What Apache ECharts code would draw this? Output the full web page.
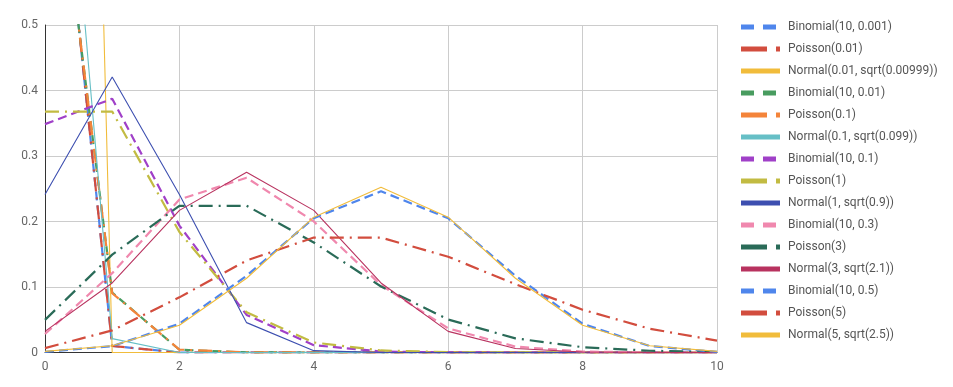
<!DOCTYPE html>
<html>
<head>
<meta charset="utf-8">
<script src="https://cdn.jsdelivr.net/npm/echarts@6/dist/echarts.min.js"></script>
<style>html,body{margin:0;padding:0;background:#fff}#c{width:953px;height:387px}</style>
</head>
<body>
<div id="c"></div>
<script>
const xValues = [0, 1, 2, 3, 4, 5, 6, 7, 8, 9, 10];
const xTicks = [0, 2, 4, 6, 8, 10];
const yTicks = [0, 0.1, 0.2, 0.3, 0.4, 0.5];

const seriesNames = [
  'Binomial(10, 0.001)', 'Poisson(0.01)', 'Normal(0.01, sqrt(0.00999))',
  'Binomial(10, 0.01)', 'Poisson(0.1)', 'Normal(0.1, sqrt(0.099))',
  'Binomial(10, 0.1)', 'Poisson(1)', 'Normal(1, sqrt(0.9))',
  'Binomial(10, 0.3)', 'Poisson(3)', 'Normal(3, sqrt(2.1))',
  'Binomial(10, 0.5)', 'Poisson(5)', 'Normal(5, sqrt(2.5))'
];

const binom0001 = [0.9900, 0.0099, 0.0000, 0, 0, 0, 0, 0, 0, 0, 0];
const pois001   = [0.9900, 0.0099, 0.0000, 0, 0, 0, 0, 0, 0, 0, 0];
const norm001   = [3.9700, 0.0000, 0, 0, 0, 0, 0, 0, 0, 0, 0];
const binom001  = [0.9044, 0.0914, 0.0042, 0.0001, 0, 0, 0, 0, 0, 0, 0];
const pois01    = [0.9048, 0.0905, 0.0045, 0.0002, 0, 0, 0, 0, 0, 0, 0];
const norm01    = [1.2060, 0.0212, 0.0000, 0, 0, 0, 0, 0, 0, 0, 0];
const binom01   = [0.3487, 0.3874, 0.1937, 0.0574, 0.0112, 0.0015, 0.0001, 0, 0, 0, 0];
const pois1     = [0.3679, 0.3679, 0.1839, 0.0613, 0.0153, 0.0031, 0.0005, 0.0001, 0, 0, 0];
const norm1     = [0.2413, 0.4205, 0.2413, 0.0456, 0.0028, 0.0001, 0, 0, 0, 0, 0];
const binom03   = [0.0282, 0.1211, 0.2335, 0.2668, 0.2001, 0.1029, 0.0368, 0.0090, 0.0014, 0.0001, 0.0000];
const pois3     = [0.0498, 0.1494, 0.2240, 0.2240, 0.1680, 0.1008, 0.0504, 0.0216, 0.0081, 0.0027, 0.0008];
const norm3     = [0.0323, 0.1062, 0.2170, 0.2753, 0.2170, 0.1062, 0.0323, 0.0061, 0.0007, 0.0001, 0.0000];
const binom05   = [0.0010, 0.0098, 0.0439, 0.1172, 0.2051, 0.2461, 0.2051, 0.1172, 0.0439, 0.0098, 0.0010];
const pois5     = [0.0067, 0.0337, 0.0842, 0.1404, 0.1755, 0.1755, 0.1462, 0.1044, 0.0653, 0.0363, 0.0181];
const norm5     = [0.0017, 0.0103, 0.0417, 0.1134, 0.2066, 0.2523, 0.2066, 0.1134, 0.0417, 0.0103, 0.0017];

const seriesValues = [binom0001, pois001, norm001, binom001, pois01, norm01,
  binom01, pois1, norm1, binom03, pois3, norm3, binom05, pois5, norm5];

const colors = ['#4f86ec', '#d24d3e', '#f1bc3b', '#489c5f', '#f4843a', '#66bfc6',
  '#a040c8', '#c2bb42', '#3d4fb0', '#f088ae', '#2a6b58', '#b8325f',
  '#4f86ec', '#d24d3e', '#f1bc3b'];

const kinds = ['binom', 'pois', 'norm'];
const lineFor = {
  binom: { width: 2.2, type: [9, 5] },
  pois: { width: 2.2, type: [14, 6, 2, 6] },
  norm: { width: 1.1, type: 'solid' }
};
const iconFor = {
  binom: 'path://M0,0H13V5H0Z M22,0H35V5H22Z M39,0H39.01V5H39Z',
  pois: 'path://M0,0H26V5H0Z M35,0H39V5H35Z',
  norm: 'path://M0,0H39V5H0Z'
};

const series = seriesValues.map((vals, i) => {
  const k = kinds[i % 3];
  return {
    name: seriesNames[i],
    type: 'line',
    data: xValues.map((x, j) => [x, vals[j]]),
    showSymbol: false,
    symbol: 'none',
    color: colors[i],
    lineStyle: { color: colors[i], width: lineFor[k].width, type: lineFor[k].type },
    emphasis: { disabled: true },
    animation: false,
    clip: true
  };
});

const chart = echarts.init(document.getElementById('c'));
chart.setOption({
  backgroundColor: '#fff',
  animation: false,
  textStyle: { fontFamily: 'Roboto, Arial, sans-serif' },
  grid: { left: 45, right: 236, top: 25, bottom: 34.5 },
  xAxis: {
    type: 'value', min: 0, max: 10, interval: 2,
    axisLine: { show: true, lineStyle: { color: '#333', width: 1 } },
    axisTick: { show: false },
    axisLabel: { color: '#666', fontSize: 12, margin: 8,
      formatter: v => xTicks.includes(v) ? String(v) : '' },
    splitLine: { show: true, lineStyle: { color: '#cccccc', width: 1 } }
  },
  yAxis: {
    type: 'value', min: 0, max: 0.5, interval: 0.1,
    axisLine: { show: true, lineStyle: { color: '#333', width: 1 } },
    axisTick: { show: false },
    axisLabel: { color: '#666', fontSize: 12, margin: 7,
      formatter: v => { const t = yTicks.find(y => Math.abs(y - v) < 1e-9); return t === undefined ? '' : String(t); } },
    splitLine: { show: true, lineStyle: { color: '#cccccc', width: 1 } }
  },
  legend: {
    orient: 'vertical',
    left: 741,
    top: 19,
    padding: 0,
    itemWidth: 39,
    itemHeight: 5,
    itemGap: 6,
    textStyle: { color: '#555', fontSize: 12, lineHeight: 16, padding: [0, 0, 0, 3] },
    data: seriesNames.map((n, i) => ({ name: n, icon: iconFor[kinds[i % 3]] })),
    selectedMode: false
  },
  series: series
});
</script>
</body>
</html>
